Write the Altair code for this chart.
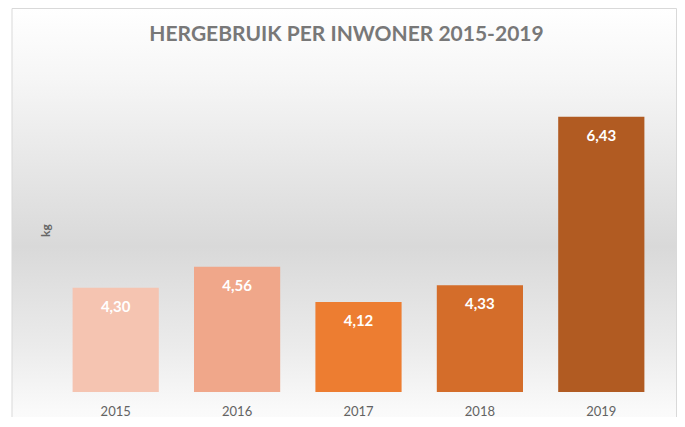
import altair as alt
import pandas as pd

years = ["2015", "2016", "2017", "2018", "2019"]
values = [4.30, 4.56, 4.12, 4.33, 6.43]
bar_colors = ["#F5C4B1", "#F0A78A", "#ED7D31", "#D46D2A", "#B15B22"]

title_text = "HERGEBRUIK PER INWONER 2015-2019"
y_title = "kg"

df = pd.DataFrame({"jaar": years, "kg": values})

FONT = "Lato"
W, H = 607, 321

bg_gradient = alt.Gradient(
    gradient="linear", x1=0, x2=0, y1=0, y2=1,
    stops=[
        alt.GradientStop(offset=0.0, color="#ffffff"),
        alt.GradientStop(offset=0.16, color="#f6f6f6"),
        alt.GradientStop(offset=0.55, color="#d9d9d9"),
        alt.GradientStop(offset=0.78, color="#ebebeb"),
        alt.GradientStop(offset=0.93, color="#fafafa"),
        alt.GradientStop(offset=1.0, color="#fcfcfc"),
    ],
)

bg = alt.Chart(pd.DataFrame({"a": [0]})).mark_rect(
    fill=bg_gradient, stroke="#d9d9d9", strokeWidth=1, clip=False
).encode(
    x=alt.value(-43), x2=alt.value(621.5), y=alt.value(-62.5), y2=alt.value(370)
)

x_enc = alt.X(
    "jaar:N",
    scale=alt.Scale(paddingInner=0.29, paddingOuter=0.145),
    axis=alt.Axis(
        title=None, labelAngle=0, domain=False, ticks=False, labelPadding=13,
        labelFont=FONT, labelFontSize=13, labelColor="#636363", zindex=2,
    ),
)
y_enc = alt.Y(
    "kg:Q",
    scale=alt.Scale(domain=[3, 7], zero=False, nice=False),
    axis=alt.Axis(
        title=y_title, labels=False, ticks=False, domain=False, grid=False,
        titleX=-10, titleY=159, titleAngle=270, titleAlign="center",
        titleBaseline="middle", titleFont=FONT, titleFontSize=12,
        titleColor="#666666", titleFontWeight="bold", zindex=2,
    ),
)

base = alt.Chart(df)
bars = base.mark_bar().encode(
    x=x_enc,
    y=y_enc,
    y2=alt.datum(3),
    color=alt.Color("jaar:N", scale=alt.Scale(domain=years, range=bar_colors), legend=None),
)
labels = base.transform_calculate(
    lab="replace(format(datum.kg, '.2f'), '.', ',')"
).mark_text(
    baseline="middle", dy=19, color="white", font=FONT, fontSize=15, fontWeight="bold"
).encode(x=x_enc, y=y_enc, text="lab:N")

chart = alt.layer(bg, bars, labels).properties(
    width=W,
    height=H,
    title=alt.TitleParams(
        title_text, font=FONT, fontSize=21, fontWeight="bold", color="#787878",
        dx=-12, dy=65, offset=28, anchor="middle", frame="group",
    ),
    autosize=alt.AutoSizeParams(type="none"),
    padding={"left": 47, "top": 63, "right": 15, "bottom": 25},
).configure_view(stroke=None)

chart.save("out.html", embed_options={"renderer": "svg", "actions": False})
